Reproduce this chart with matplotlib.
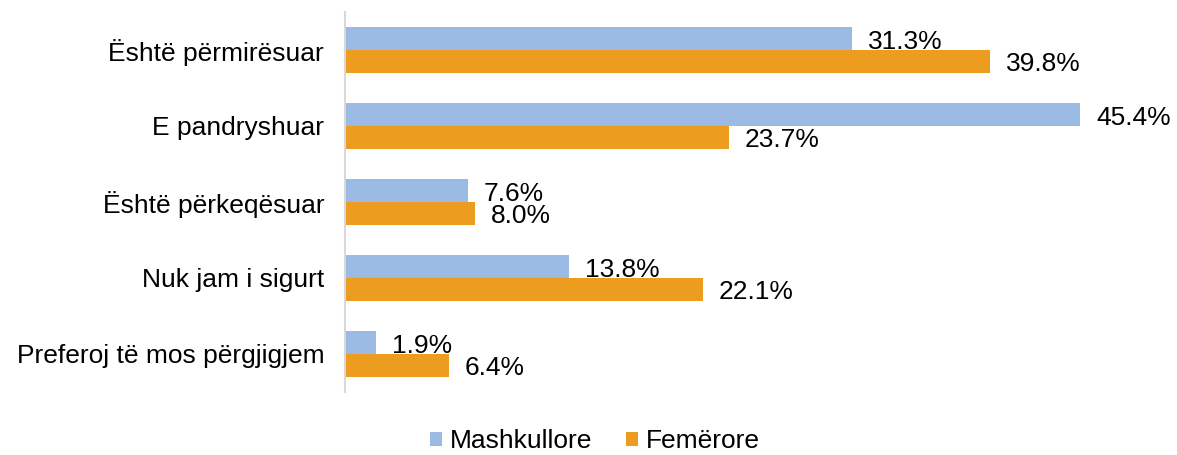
import matplotlib
matplotlib.use("Agg")
import matplotlib.pyplot as plt
import numpy as np

categories = ["Është përmirësuar", "E pandryshuar", "Është përkeqësuar",
              "Nuk jam i sigurt", "Preferoj të mos përgjigjem"]
mashkullore = [31.3, 45.4, 7.6, 13.8, 1.9]
femerore = [39.8, 23.7, 8.0, 22.1, 6.4]
series_names = ["Mashkullore", "Femërore"]

plt.rcParams['font.family'] = ['Liberation Sans', 'DejaVu Sans']
FS = 19

fig = plt.figure(figsize=(11.77, 4.55), dpi=100)
ax = fig.add_axes([345/1177, 1 - 392/455, (1155-345)/1177, (392-12)/455])

y = np.arange(len(categories))
h = 0.3
c_blue = "#9BBBE5"
c_orange = "#EC9C1F"
b1 = ax.barh(y - h/2, mashkullore, height=h, color=c_blue, label=series_names[0])
b2 = ax.barh(y + h/2, femerore, height=h, color=c_orange, label=series_names[1])

for bars, vals in ((b1, mashkullore), (b2, femerore)):
    for bar, v in zip(bars, vals):
        ax.annotate(f"{v:.1f}%", (v, bar.get_y() + bar.get_height()/2),
                    xytext=(16, -3), textcoords="offset pixels",
                    ha="left", va="center", fontsize=FS, color="#000000")

ax.set_yticks(y)
ax.set_yticklabels(categories, fontsize=FS)
ax.set_ylim(len(categories) - 0.5, -0.5)
ax.set_xlim(0, 50)
ax.set_xticks([])
ax.tick_params(axis='y', length=0, pad=15)
for s in ("top", "right", "bottom"):
    ax.spines[s].set_visible(False)
ax.spines["left"].set_color("#D9D9D9")
ax.spines["left"].set_linewidth(1.5)

leg = fig.legend(handles=[b1, b2], labels=series_names, loc="center",
                 bbox_to_anchor=(595/1177, 1 - 441/455), ncol=2, frameon=False,
                 fontsize=FS, handlelength=0.45, handleheight=0.45,
                 handletextpad=0.3, columnspacing=1.3)

fig.savefig("out.png", dpi=100)
